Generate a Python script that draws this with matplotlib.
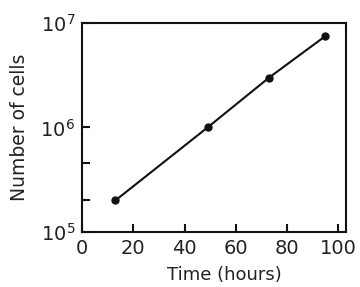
import matplotlib
matplotlib.use("Agg")
import matplotlib.pyplot as plt
from matplotlib.ticker import FixedLocator, NullFormatter

time_hours = [13, 49, 73, 95]
cell_counts = [2.0e5, 1.0e6, 3.0e6, 7.5e6]
x_ticks = [0, 20, 40, 60, 80, 100]
y_major = [1e5, 1e6, 1e7]
y_minor = [2e5, 4.6e5]

fig = plt.figure(figsize=(3.6, 2.87), dpi=100)
ax = fig.add_axes([0.228, 0.192, 0.733, 0.728])
ax.set_yscale("log")
ax.plot(time_hours, cell_counts, color="#111111", lw=1.5, marker="o", ms=5)
ax.set_xlim(0, 103)
ax.set_ylim(1e5, 1e7)
ax.set_xticks(x_ticks)
ax.yaxis.set_major_locator(FixedLocator(y_major))
ax.yaxis.set_minor_locator(FixedLocator(y_minor))
ax.yaxis.set_minor_formatter(NullFormatter())
ax.tick_params(axis="both", which="both", direction="in", labelsize=14,
               color="#111111", labelcolor="#222222", width=1.5)
ax.tick_params(axis="both", which="major", length=6, pad=5)
ax.tick_params(axis="y", which="minor", length=6)
for s in ax.spines.values():
    s.set_linewidth(1.5)
    s.set_color("#111111")
ax.set_xlabel("Time (hours)", fontsize=13, color="#222222")
ax.set_ylabel("Number of cells", fontsize=13.5, color="#222222")
ax.xaxis.set_label_coords(0.54, -0.163)
ax.yaxis.set_label_coords(-0.2, 0.5)
fig.savefig("out.png", dpi=100)
